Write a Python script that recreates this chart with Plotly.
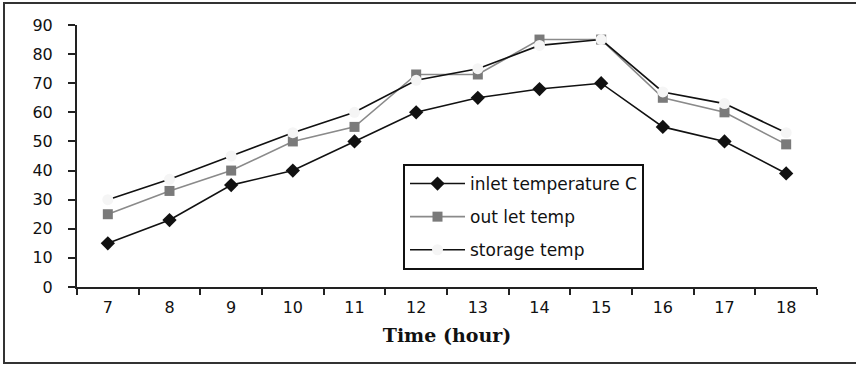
import plotly.graph_objects as go

hours = ["7", "8", "9", "10", "11", "12", "13", "14", "15", "16", "17", "18"]
inlet_temp = [15, 23, 35, 40, 50, 60, 65, 68, 70, 55, 50, 39]
outlet_temp = [25, 33, 40, 50, 55, 73, 73, 85, 85, 65, 60, 49]
storage_temp = [30, 37, 45, 53, 60, 71, 75, 83, 85, 67, 63, 53]

W, H = 856, 366
L, R, T, B = 77, 39, 25, 79
pw, ph = W - L - R, H - T - B

fig = go.Figure()
fig.add_trace(go.Scatter(
    x=hours, y=inlet_temp, name="inlet temperature C", mode="lines+markers",
    line=dict(color="#111111", width=1.6),
    marker=dict(symbol="diamond", size=11, color="#111111"),
    legendgroup="a",
))
fig.add_trace(go.Scatter(
    x=hours, y=outlet_temp, name="out let temp", mode="lines+markers",
    line=dict(color="#8a8a8a", width=1.6),
    marker=dict(symbol="square", size=10, color="#7a7a7a"),
    legendgroup="b",
))
fig.add_trace(go.Scatter(
    x=hours, y=storage_temp, name="storage temp", mode="lines+markers",
    line=dict(color="#111111", width=1.6),
    marker=dict(symbol="circle", size=11, color="#f5f5f5"),
    legendgroup="c",
))

def px_x(p):
    return (p - L) / pw

def px_y(p):
    return (H - B - p) / ph

# outer frame around the chart
fig.add_shape(type="rect", xref="paper", yref="paper",
              x0=px_x(4), x1=px_x(870), y0=px_y(363), y1=px_y(3),
              line=dict(color="#333333", width=2), layer="below")

tick_font = dict(family="DejaVu Sans", size=16, color="#111111")

fig.update_layout(
    width=W, height=H,
    margin=dict(l=L, r=R, t=T, b=B),
    paper_bgcolor="white", plot_bgcolor="white",
    showlegend=True,
    legend=dict(
        x=px_x(403), y=px_y(164), xanchor="left", yanchor="top",
        bordercolor="#111111", borderwidth=2, bgcolor="white",
        font=dict(family="DejaVu Sans", size=17, color="#111111"),
        tracegroupgap=8, itemwidth=55,
        traceorder="grouped",
    ),
    xaxis=dict(
        type="category", range=[-0.5, 11.5],
        showline=True, linecolor="#222222", linewidth=2,
        ticks="outside", tickson="boundaries", ticklen=6, tickwidth=2,
        tickcolor="#222222", showgrid=False, zeroline=False,
        tickfont=tick_font, ticklabelstandoff=5,
        title=dict(text="<b>Time (hour)</b>", standoff=12,
                   font=dict(family="DejaVu Serif", size=19, color="#111111")),
    ),
    yaxis=dict(
        range=[0, 90], tickvals=list(range(0, 100, 10)),
        showline=True, linecolor="#222222", linewidth=2,
        ticks="outside", ticklen=7, tickwidth=2, tickcolor="#222222",
        showgrid=False, zeroline=False,
        tickfont=tick_font, ticklabelstandoff=12,
    ),
)

fig.write_html("out.html")
